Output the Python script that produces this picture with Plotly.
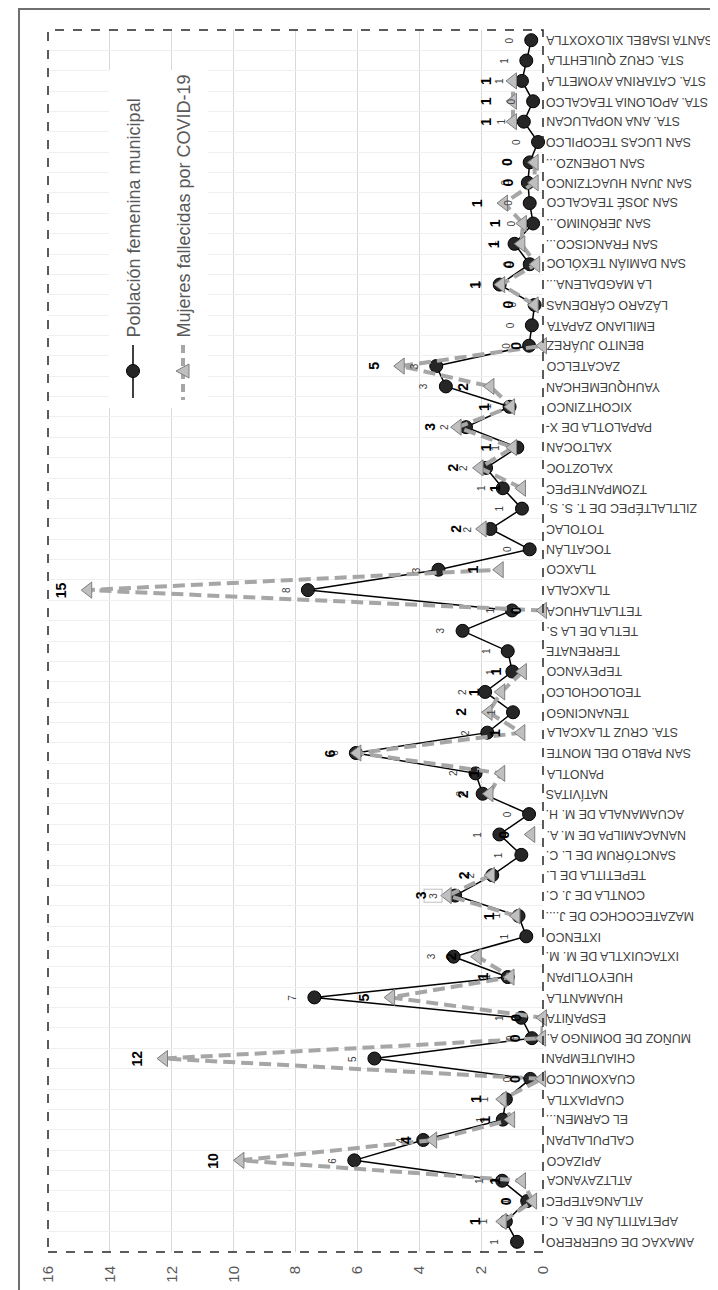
import math
import plotly.graph_objects as go

municipios = [
    "AMAXAC DE GUERRERO", "APETATITLÁN DE A. C.", "ATLANGATEPEC", "ATLTZAYANCA", "APIZACO",
    "CALPULALPAN", "EL CARMEN...", "CUAPIAXTLA", "CUAXOMULCO", "CHIAUTEMPAN",
    "MUÑOZ DE DOMINGO A.", "ESPAÑITA", "HUAMANTLA", "HUEYOTLIPAN", "IXTACUIXTLA DE M. M.",
    "IXTENCO", "MAZATECOCHCO DE J....", "CONTLA DE J. C.", "TEPETITLA DE L.", "SANCTÓRUM DE L. C.",
    "NANACAMILPA DE M. A.", "ACUAMANALA DE M. H.", "NATÍVITAS", "PANOTLA", "SAN PABLO DEL MONTE",
    "STA. CRUZ TLAXCALA", "TENANCINGO", "TEOLOCHOLCO", "TEPEYANCO", "TERRENATE",
    "TETLA DE LA S.", "TETLATLAHUCA", "TLAXCALA", "TLAXCO", "TOCATLÁN",
    "TOTOLAC", "ZILTLALTÉPEC DE T. S. S.", "TZOMPANTEPEC", "XALOZTOC", "XALTOCAN",
    "PAPALOTLA DE X-", "XICOHTZINCO", "YAUHQUEMEHCAN", "ZACATELCO", "BENITO JUÁREZ",
    "EMILIANO ZAPATA", "LÁZARO CÁRDENAS", "LA MAGDALENA...", "SAN DAMIÁN TEXÓLOC", "SAN FRANCISCO...",
    "SAN JERÓNIMO...", "SAN JOSÉ TEACALCO", "SAN JUAN HUACTZINCO", "SAN LORENZO...", "SAN LUCAS TECOPILCO",
    "STA. ANA NOPALUCAN", "STA. APOLONIA TEACALCO", "STA. CATARINA AYOMETLA", "STA. CRUZ QUILEHTLA", "SANTA ISABEL XILOXOXTLA",
]

poblacion_femenina = [
    0.84, 1.20, 0.51, 1.32, 6.10,
    3.87, 1.30, 1.20, 0.41, 5.45,
    0.36, 0.70, 7.39, 1.14, 2.89,
    0.54, 0.79, 2.84, 1.64, 0.70,
    1.41, 0.45, 1.95, 2.18, 6.05,
    1.80, 0.97, 1.87, 0.99, 1.14,
    2.60, 1.00, 7.60, 3.38, 0.43,
    1.70, 0.68, 1.30, 1.84, 0.83,
    2.49, 1.08, 3.14, 3.45, 0.45,
    0.36, 0.27, 1.40, 0.43, 0.92,
    0.32, 0.43, 0.49, 0.43, 0.16,
    0.62, 0.32, 0.68, 0.54, 0.38,
]

mujeres_fallecidas = [
    None, 1.30, 0.32, 0.68, 9.78,
    3.55, 1.03, 1.30, 0.03, 12.25,
    0.03, 0.00, 4.91, 1.05, 2.11,
    None, 0.86, 3.08, 1.68, None,
    0.38, None, 1.73, 1.35, 6.00,
    0.70, 1.76, 1.35, 0.65, None,
    None, 0.00, 14.70, 1.40, None,
    1.95, None, 0.68, 2.05, 0.97,
    2.76, 1.03, 1.70, 4.60, 0.00,
    None, 0.27, 1.35, 0.22, 0.70,
    0.65, 1.26, 0.27, 0.27, None,
    0.97, 0.97, 0.97, None, None,
]

eje_valores = [0, 2, 4, 6, 8, 10, 12, 14, 16]

serie_poblacion = "Población femenina municipal"
serie_fallecidas = "Mujeres fallecidas por COVID-19"
etiqueta_recuadro = "CONTLA DE J. C."

W, H = 718, 1290
L, R, T, B = 40, 183, 22, 46


def px(x):
    return (x - L) / (W - L - R)


def py(y):
    return (H - B - y) / (H - T - B)


def redondeo(v):
    return str(int(math.floor(v + 0.5)))


FONT = "Liberation Sans, Arial, sans-serif"

fig = go.Figure()
fig.add_trace(go.Scatter(
    x=poblacion_femenina, y=municipios, mode="lines+markers", name=serie_poblacion,
    line=dict(color="#000000", width=1.5),
    marker=dict(symbol="circle", size=13, color="#262626", line=dict(color="#000000", width=1)),
    cliponaxis=False, showlegend=False,
))
fig.add_trace(go.Scatter(
    x=mujeres_fallecidas, y=municipios, mode="lines+markers", name=serie_fallecidas,
    connectgaps=False,
    line=dict(color="#A6A6A6", width=4, dash="12px,6px"),
    marker=dict(symbol="triangle-left", size=14, color="#BFBFBF", line=dict(color="#7F7F7F", width=1)),
    cliponaxis=False, showlegend=False,
))

annotations = []
# category labels (upside down, right of plot)
for m in municipios:
    annotations.append(dict(
        x=1, xref="paper", xanchor="left", xshift=1,
        y=m, yref="y", yanchor="middle",
        text=m, textangle=180, showarrow=False,
        font=dict(family=FONT, size=12.4, color="#404040"),
    ))
# black series labels
for m, v in zip(municipios, poblacion_femenina):
    a = dict(
        x=v, y=m, xref="x", yref="y", text=redondeo(v), textangle=-90,
        xshift=-22, showarrow=False,
        font=dict(family=FONT, size=10, color="#404040"),
    )
    if m == etiqueta_recuadro:
        a.update(bordercolor="#BFBFBF", borderwidth=1, borderpad=3)
    annotations.append(a)
# gray series labels
for m, v in zip(municipios, mujeres_fallecidas):
    if v is None:
        continue
    annotations.append(dict(
        x=v, y=m, xref="x", yref="y", text=redondeo(v), textangle=-90,
        xshift=-27, showarrow=False,
        font=dict(family=FONT, size=14, color="#000000", weight="bold"),
    ))
# legend texts
annotations.append(dict(
    x=px(126), y=py(332), xref="paper", yref="paper", xanchor="center", yanchor="bottom",
    text=serie_poblacion, textangle=-90, showarrow=False,
    font=dict(family=FONT, size=18, color="#595959"),
))
annotations.append(dict(
    x=px(176), y=py(332), xref="paper", yref="paper", xanchor="center", yanchor="bottom",
    text=serie_fallecidas, textangle=-90, showarrow=False,
    font=dict(family=FONT, size=18, color="#595959"),
))

shapes = [
    # outer frame
    dict(type="rect", xref="paper", yref="paper", x0=px(11), x1=px(717), y0=py(1288), y1=py(1),
         line=dict(color="#6F6F6F", width=2), layer="above"),
    # dashed plot frame
    dict(type="rect", xref="paper", yref="paper", x0=0, x1=1, y0=0, y1=1,
         line=dict(color="#262626", width=1.5, dash="dash"), layer="above"),
    # legend box
    dict(type="rect", xref="paper", yref="paper", x0=px(101), x1=px(200), y0=py(400), y1=py(62),
         fillcolor="#FFFFFF", line=dict(width=0), layer="above"),
    # legend item 1
    dict(type="line", xref="paper", yref="paper", x0=px(125), x1=px(125), y0=py(337), y1=py(390),
         line=dict(color="#000000", width=1.5), layer="above"),
    dict(type="circle", xref="paper", yref="paper", x0=px(118.5), x1=px(131.5), y0=py(369.5), y1=py(356.5),
         fillcolor="#262626", line=dict(color="#000000", width=1), layer="above"),
    # legend item 2
    dict(type="line", xref="paper", yref="paper", x0=px(175), x1=px(175), y0=py(337), y1=py(392),
         line=dict(color="#A6A6A6", width=4, dash="8px,5px"), layer="above"),
    dict(type="path", xref="paper", yref="paper",
         path=f"M {px(168)},{py(363)} L {px(181)},{py(356)} L {px(181)},{py(370)} Z",
         fillcolor="#BFBFBF", line=dict(color="#7F7F7F", width=1), layer="above"),
]

fig.update_layout(
    width=W, height=H,
    margin=dict(l=L, r=R, t=T, b=B, pad=0),
    paper_bgcolor="#FFFFFF", plot_bgcolor="rgba(0,0,0,0)",
    showlegend=False,
    annotations=annotations,
    shapes=shapes,
    font=dict(family=FONT),
)
fig.update_xaxes(
    range=[16, 0], tickmode="array", tickvals=eje_valores, ticktext=[str(v) for v in eje_valores],
    tickangle=-90, tickfont=dict(family=FONT, size=15, color="#595959"),
    showgrid=True, gridcolor="#D9D9D9", gridwidth=1, zeroline=False, showline=False,
    ticks="", ticklabelstandoff=10,
)
fig.update_yaxes(
    type="category", categoryorder="array", categoryarray=municipios,
    range=[-0.5, len(municipios) - 0.5],
    showticklabels=False, showgrid=True, gridcolor="#EFEFEF", gridwidth=1,
    tickson="boundaries", ticks="", zeroline=False, showline=False,
)

fig.write_html("out.html", config={"displayModeBar": False})
